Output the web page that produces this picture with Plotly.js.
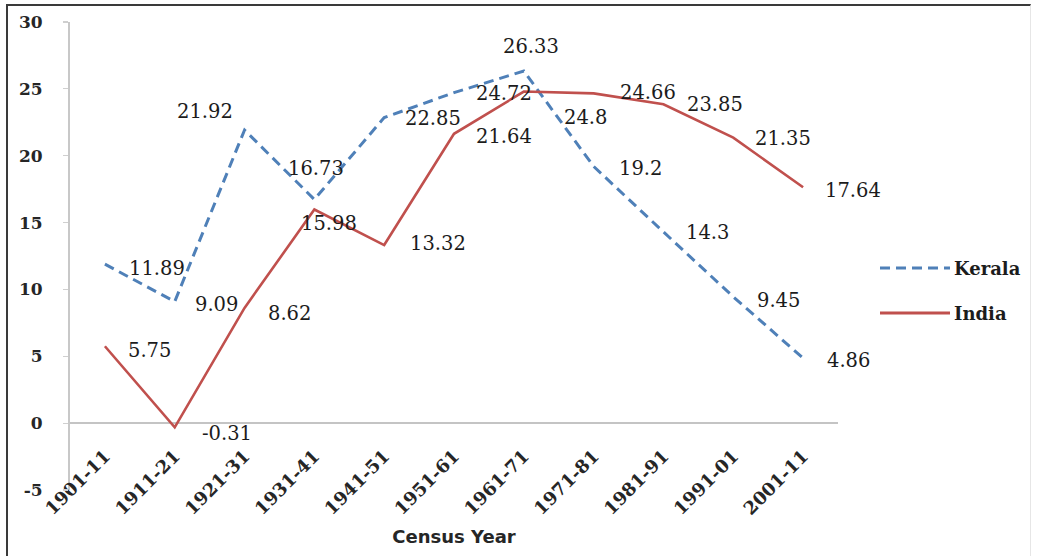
<!DOCTYPE html>
<html>
<head>
<meta charset="utf-8">
<script src="https://cdn.plot.ly/plotly-3.0.1.min.js"></script>
<style>
  html, body { margin: 0; padding: 0; background: #fff; }
  #wrap { position: relative; width: 1037px; height: 556px; overflow: hidden; }
  #chart { position: absolute; left: 0; top: 0; width: 1037px; height: 556px; }
  #frame { position: absolute; left: 6px; top: 4px; width: 1022px; height: 560px;
           border-top: 2px solid #3a3a3a; border-left: 2px solid #3a3a3a; border-right: 1px solid #e6e6e6;
           pointer-events: none; }
</style>
</head>
<body>
<div id="wrap">
  <div id="chart"></div>
  <div id="frame"></div>
</div>
<script>
// ---- data ----
const categories = ["1901-11","1911-21","1921-31","1931-41","1941-51","1951-61","1961-71","1971-81","1981-91","1991-01","2001-11"];
const keralaName = "Kerala";
const indiaName = "India";
const keralaValues = [11.89, 9.09, 21.92, 16.73, 22.85, 24.72, 26.33, 19.2, 14.3, 9.45, 4.86];
const indiaValues  = [5.75, -0.31, 8.62, 15.98, 13.32, 21.64, 24.8, 24.66, 23.85, 21.35, 17.64];
const yTicks = [-5, 0, 5, 10, 15, 20, 25, 30];
const xTitle = "Census Year";

// ---- styles ----
const keralaColor = "#4f80b8";
const indiaColor = "#c0504d";
const labelFont = {family: "DejaVu Serif", size: 19.5, color: "#1c1c1c"};
// label offsets in pixels [dx, dy(down)]
const keralaOffsets = [[52,4],[42,3],[-40,-19],[2,-31],[49,1],[50,1],[7,-25],[47,2],[44,1],[45,4],[45,2]];
const indiaOffsets  = [[45,4],[52,6],[45,6],[15,14],[54,-2],[50,3],[62,26],[54,-1],[52,0],[50,1],[50,3]];

const traces = [
  {x: categories, y: keralaValues, name: keralaName, type: "scatter", mode: "lines",
   line: {color: keralaColor, width: 3, dash: "10px,6px"}, showlegend: false, hoverinfo: "x+y+name"},
  {x: categories, y: indiaValues, name: indiaName, type: "scatter", mode: "lines",
   line: {color: indiaColor, width: 2.6}, showlegend: false, hoverinfo: "x+y+name"}
];

const annotations = [];
function addLabels(vals, offs) {
  vals.forEach((v, i) => {
    annotations.push({x: categories[i], y: v, xref: "x", yref: "y", text: String(v),
      showarrow: false, xshift: offs[i][0], yshift: -offs[i][1], font: labelFont,
      xanchor: "center", yanchor: "middle"});
  });
}
addLabels(keralaValues, keralaOffsets);
addLabels(indiaValues, indiaOffsets);

// custom legend (long line samples)
const L = 70, R = 199, T = 22, B = 66, W = 1037, H = 556;
const pw = W - L - R, ph = H - T - B;
const px = v => (v - L) / pw;
const py = v => (H - B - v) / ph;
const shapes = [
  {type: "line", xref: "paper", yref: "paper", x0: px(880), x1: px(950), y0: py(268), y1: py(268),
   line: {color: keralaColor, width: 3, dash: "10px,6px"}},
  {type: "line", xref: "paper", yref: "paper", x0: px(880), x1: px(950), y0: py(313), y1: py(313),
   line: {color: indiaColor, width: 3}}
];
const legendFont = {family: "DejaVu Serif", size: 18, color: "#1c1c1c", weight: "bold"};
annotations.push({xref: "paper", yref: "paper", x: px(952), y: py(268), text: keralaName, showarrow: false,
  xanchor: "left", yanchor: "middle", font: legendFont});
annotations.push({xref: "paper", yref: "paper", x: px(952), y: py(313), text: indiaName, showarrow: false,
  xanchor: "left", yanchor: "middle", font: legendFont});

const layout = {
  width: W, height: H,
  margin: {l: L, r: R, t: T, b: B, pad: 0},
  paper_bgcolor: "#fff", plot_bgcolor: "#fff",
  showlegend: false,
  xaxis: {
    type: "category", range: [-0.5, categories.length - 0.5],
    anchor: "free", position: 5 / 35,
    tickangle: -45, ticks: "", showgrid: false, showline: false, zeroline: false,
    ticklabelstandoff: 18,
    tickfont: {family: "DejaVu Serif", size: 18, color: "#262626", weight: "bold"},
    title: {text: xTitle, font: {family: "DejaVu Sans", size: 18, color: "#262626", weight: "bold"}, standoff: 12},
    fixedrange: true
  },
  yaxis: {
    range: [-5, 30], tickvals: yTicks, ticktext: yTicks.map(String),
    showline: true, linecolor: "#c8c8c8", linewidth: 2,
    ticks: "outside", ticklen: 5, tickcolor: "#cfcfcf", tickwidth: 1.2,
    ticklabelstandoff: 17,
    showgrid: false, zeroline: true, zerolinecolor: "#c4c4c4", zerolinewidth: 2,
    tickfont: {family: "DejaVu Serif", size: 17, color: "#262626", weight: "bold"},
    fixedrange: true
  },
  shapes: shapes,
  annotations: annotations
};

Plotly.newPlot("chart", traces, layout, {displayModeBar: false, staticPlot: true});
</script>
</body>
</html>
